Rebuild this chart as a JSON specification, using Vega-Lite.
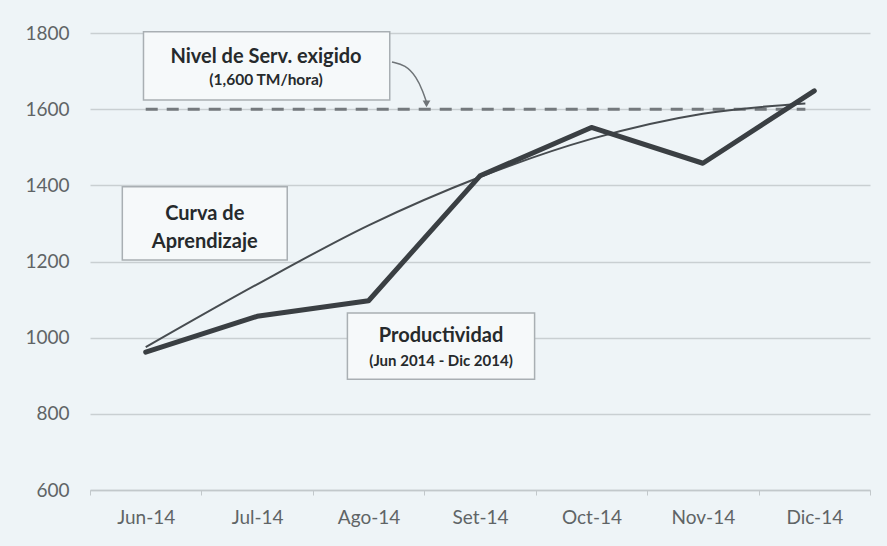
{
  "$schema": "https://vega.github.io/schema/vega-lite/v6.json",
  "width": 780,
  "height": 457,
  "autosize": {"type": "none"},
  "padding": {"left": 90, "top": 33, "right": 17, "bottom": 56},
  "background": "#eef4f7",
  "config": {
    "view": {"stroke": null},
    "font": "Lato",
    "axis": {"labelFont": "Lato", "labelColor": "#5f6466", "labelFontSize": 19}
  },
  "datasets": {
    "prod": [
      {"m": 0, "v": 962},
      {"m": 1, "v": 1056},
      {"m": 2, "v": 1097},
      {"m": 3, "v": 1425},
      {"m": 4, "v": 1552},
      {"m": 5, "v": 1458},
      {"m": 6, "v": 1648}
    ],
    "curva": [
      {"m": 0, "v": 975},
      {"m": 1, "v": 1140},
      {"m": 2, "v": 1295},
      {"m": 3, "v": 1422},
      {"m": 4, "v": 1522},
      {"m": 5, "v": 1588},
      {"m": 5.92, "v": 1615}
    ],
    "meta": [
      {"m": 0, "v": 1600},
      {"m": 5.92, "v": 1600}
    ],
    "boxes": [
      {"x1": -0.02, "x2": 2.19, "y1": 1624, "y2": 1803},
      {"x1": -0.21, "x2": 1.27, "y1": 1204, "y2": 1396},
      {"x1": 1.81, "x2": 3.49, "y1": 891, "y2": 1065}
    ],
    "labels": [
      {"m": 1.08, "v": 1737, "t": "Nivel de Serv. exigido", "s": 20},
      {"m": 1.08, "v": 1677, "t": "(1,600 TM/hora)", "s": 15.5},
      {"m": 0.53, "v": 1325, "t": "Curva de", "s": 20},
      {"m": 0.53, "v": 1251, "t": "Aprendizaje", "s": 20},
      {"m": 2.65, "v": 1004, "t": "Productividad", "s": 20},
      {"m": 2.65, "v": 939, "t": "(Jun 2014 - Dic 2014)", "s": 15}
    ],
    "arrow": [
      {"o": 0, "m": 2.21, "v": 1724},
      {"o": 1, "m": 2.33, "v": 1716},
      {"o": 2, "m": 2.43, "v": 1685},
      {"o": 3, "m": 2.49, "v": 1645},
      {"o": 4, "m": 2.52, "v": 1618}
    ],
    "arrowhead": [
      {"m": 2.52, "v": 1614}
    ]
  },
  "layer": [
    {
      "data": {"name": "boxes"},
      "mark": {"type": "rect", "fill": "#f6f9fa", "stroke": "#a9afb3", "strokeWidth": 1.5},
      "encoding": {
        "x": {
          "field": "x1", "type": "quantitative",
          "scale": {"domain": [-0.5, 6.5], "nice": false, "zero": false},
          "axis": {
            "title": null,
            "values": [-0.5, 0.5, 1.5, 2.5, 3.5, 4.5, 5.5, 6.5],
            "labelExpr": "['','Jun-14','Jul-14','Ago-14','Set-14','Oct-14','Nov-14','Dic-14'][round(datum.value+0.5)]",
            "labelOffset": -55.7,
            "labelOverlap": false,
            "labelBound": false,
            "labelFlush": false,
            "grid": false,
            "domainColor": "#c2c8cb",
            "domainWidth": 1.5,
            "tickColor": "#c2c8cb",
            "tickSize": 5,
            "labelPadding": 13
          }
        },
        "x2": {"field": "x2"},
        "y": {
          "field": "y1", "type": "quantitative",
          "scale": {"domain": [600, 1800], "nice": false, "zero": false},
          "axis": {
            "title": null,
            "format": "d",
            "values": [600, 800, 1000, 1200, 1400, 1600, 1800],
            "domain": false,
            "ticks": false,
            "labelPadding": 21,
            "gridColor": "#c9cfd2",
            "gridWidth": 1.5
          }
        },
        "y2": {"field": "y2"}
      }
    },
    {
      "data": {"name": "meta"},
      "mark": {"type": "line", "color": "#74797d", "strokeWidth": 3, "strokeDash": [12, 9]},
      "encoding": {
        "x": {"field": "m", "type": "quantitative"},
        "y": {"field": "v", "type": "quantitative"}
      }
    },
    {
      "data": {"name": "curva"},
      "mark": {"type": "line", "color": "#474c50", "strokeWidth": 2, "interpolate": "monotone"},
      "encoding": {
        "x": {"field": "m", "type": "quantitative"},
        "y": {"field": "v", "type": "quantitative"}
      }
    },
    {
      "data": {"name": "prod"},
      "mark": {"type": "line", "color": "#3a3f43", "strokeWidth": 5, "strokeJoin": "round", "strokeCap": "round"},
      "encoding": {
        "x": {"field": "m", "type": "quantitative"},
        "y": {"field": "v", "type": "quantitative"}
      }
    },
    {
      "data": {"name": "arrow"},
      "mark": {"type": "line", "color": "#6f7478", "strokeWidth": 1.5, "interpolate": "basis"},
      "encoding": {
        "x": {"field": "m", "type": "quantitative"},
        "y": {"field": "v", "type": "quantitative"},
        "order": {"field": "o"}
      }
    },
    {
      "data": {"name": "arrowhead"},
      "mark": {"type": "point", "shape": "triangle-down", "filled": true, "color": "#6f7478", "size": 60, "opacity": 1},
      "encoding": {
        "x": {"field": "m", "type": "quantitative"},
        "y": {"field": "v", "type": "quantitative"}
      }
    },
    {
      "data": {"name": "labels"},
      "mark": {"type": "text", "font": "Lato", "fontWeight": "bold", "color": "#262a2c", "align": "center", "baseline": "middle"},
      "encoding": {
        "x": {"field": "m", "type": "quantitative"},
        "y": {"field": "v", "type": "quantitative"},
        "text": {"field": "t"},
        "size": {"field": "s", "type": "quantitative", "scale": null}
      }
    }
  ]
}
